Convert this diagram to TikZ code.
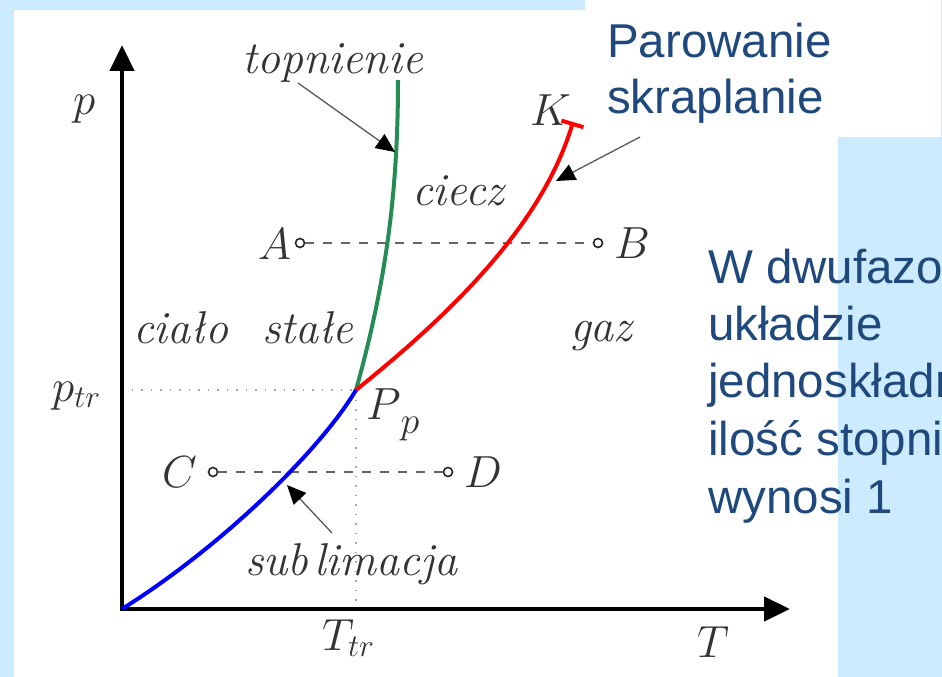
\RequirePackage{fix-cm}
\documentclass[tikz,border=0pt]{standalone}
\usepackage{fontspec}
\newfontfamily\arialf{Liberation Sans}
\usetikzlibrary{arrows.meta}
\definecolor{bgblue}{RGB}{204,235,255}
\definecolor{txtblue}{RGB}{31,73,125}
\definecolor{meltgreen}{RGB}{38,140,85}
\tikzset{
  lab/.style={font=\fontsize{46}{55}\selectfont\itshape, text=black!80, inner sep=0pt, anchor=base west},
  mlab/.style={font=\fontsize{45}{54}\selectfont, text=black!80, inner sep=0pt, anchor=base west},
  bluetxt/.style={font=\arialf\fontsize{47.5}{56}\selectfont, text=txtblue, inner sep=0pt, anchor=base west},
  axisline/.style={line width=4.5pt, -{Triangle[length=26pt,width=24pt]}},
  curveline/.style={line width=4pt},
  pointer/.style={draw=black!65, line width=1.3pt, -{Triangle[length=19pt,width=17pt,color=black,fill=black]}},
  guide/.style={draw=black!35, line width=1.5pt, dash pattern=on 1.5pt off 8pt},
  dashln/.style={draw=black!60, line width=1.5pt, dash pattern=on 9pt off 9pt},
  ptc/.style={circle, draw=black!85, line width=1.6pt, minimum size=9pt, inner sep=0pt, fill=white}
}
\begin{document}
\begin{tikzpicture}[x=1pt,y=-1pt]
\useasboundingbox (0,0) rectangle (942,677);
\clip (0,0) rectangle (942,677);
% backgrounds
\fill[bgblue] (0,0) rectangle (942,677);
\fill[white] (14,10) rectangle (838,677);
\fill[white] (585,0) rectangle (941,137);

% guides
\coordinate (O) at (122,609);
\coordinate (Pp) at (356,390);
\coordinate (ptrL) at (122,390);
\coordinate (TtrB) at (356,609);
\draw[guide] (ptrL) -- (Pp);
\draw[guide] (Pp) -- (TtrB);

% axes
\coordinate (Ytip) at (122,45);
\coordinate (Xtip) at (790,609);
\coordinate (O2) at (122,611);
\draw[axisline] (O2) -- (Ytip);
\draw[axisline] (O) -- (Xtip);

% dashed lines with points
\node[ptc] (A0) at (300,243) {};
\node[ptc] (B0) at (598,243) {};
\node[ptc] (C0) at (213,472) {};
\node[ptc] (D0) at (448,472) {};
\draw[dashln] (A0) -- (B0);
\draw[dashln] (C0) -- (D0);

% phase curves
\coordinate (Ktop) at (573,122);
\coordinate (Gtop) at (398,80);
\draw[curveline, meltgreen] (Pp) .. controls (384,289) and (398,200) .. (Gtop);
\draw[curveline, red, -{Bar[width=23pt,line width=4pt]}] (Pp) .. controls (457,309) and (543,222) .. (Ktop);
\draw[curveline, blue] (O) .. controls (224,545) and (321,449) .. (Pp);

% labels
\node[mlab] (pl) at (73,114) {$p$};
\node[mlab] (ptr) at (52,401) {$p_{tr}$};
\node[mlab] (Ttr) at (322,650) {$T_{tr}$};
\node[mlab] (Tl) at (697,657) {$T$};
\node[mlab] (Al) at (258,259) {$A$};
\node[mlab] (Bl) at (614,258) {$B$};
\node[mlab] (Cl) at (162,487) {$C$};
\node[mlab] (Dl) at (464,487) {$D$};
\node[mlab] (Kl) at (530,125) {$K$};
\node[mlab] (Ppl) at (366,419) {$P$\raisebox{-14pt}{\fontsize{38}{40}\selectfont$p$}};
\node[lab] (topn) at (242,74) {topnienie};
\node[lab] (ciecz) at (412,205) {ciecz};
\node[lab] (cialo) at (133,343) {ciało};
\node[lab] (stale) at (262,343) {stałe};
\node[lab] (gaz) at (570,341) {gaz};
\node[lab] (subl) at (245,575) {sub\hspace{6pt}limacja};

% pointers
\coordinate (tmS) at (298,83);
\coordinate (tmT) at (395,152);
\draw[pointer] (tmS) -- (tmT);
\coordinate (pkS) at (640,137);
\coordinate (pkT) at (556,181);
\draw[pointer] (pkS) -- (pkT);
\coordinate (sbS) at (332,533);
\coordinate (sbT) at (287,485);
\draw[pointer] (sbS) -- (sbT);

% blue texts
\node[bluetxt] (par1) at (607,58) {Parowanie};
\node[bluetxt] (par2) at (607,113) {skraplanie};
\node[bluetxt] (w1) at (708,283) {W dwufazowym};
\node[bluetxt] (w2) at (708,340) {układzie};
\node[bluetxt] (w3) at (708,397) {jednoskładnikowym};
\node[bluetxt] (w4) at (708,455) {ilość stopni swobody};
\node[bluetxt] (w5) at (708,513) {wynosi 1};
\end{tikzpicture}
\end{document}
